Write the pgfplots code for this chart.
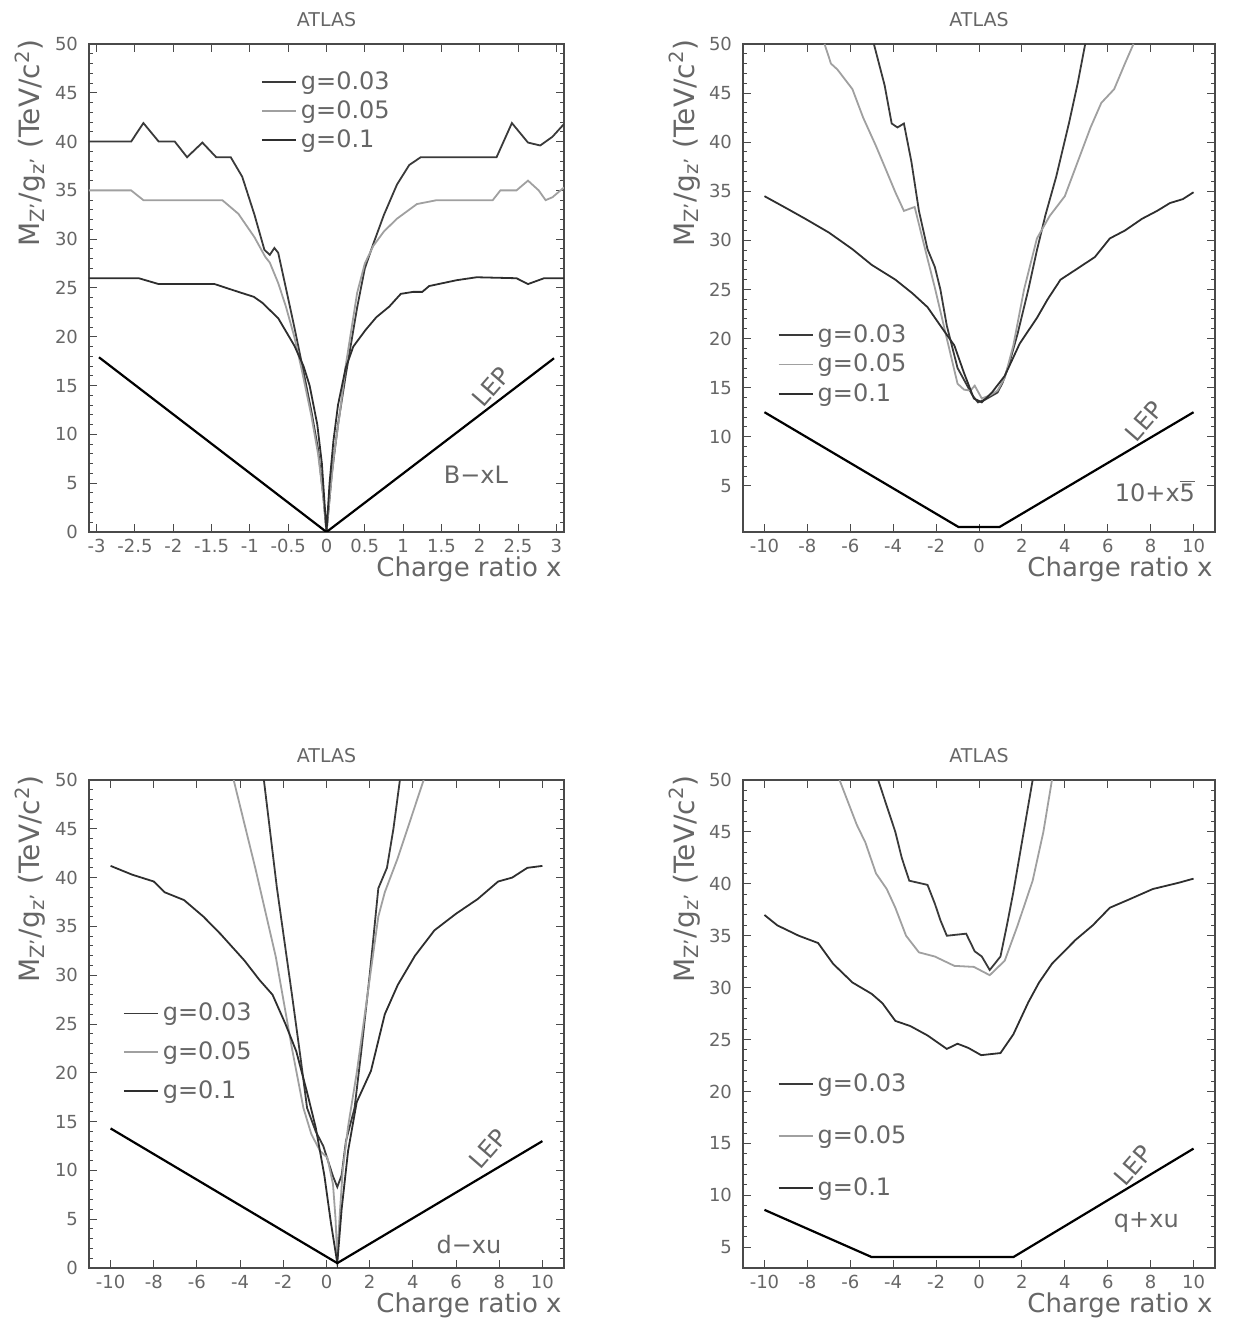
\documentclass[border=0pt]{standalone}
\usepackage{pgfplots}
\pgfplotsset{compat=1.18}
\usepackage{fontspec}
\setmainfont{DejaVu Sans}
\definecolor{txt}{HTML}{666666}
\definecolor{frm}{HTML}{4A4A4A}
\definecolor{cA}{HTML}{3A3A3A}
\definecolor{cB}{HTML}{A0A0A0}
\definecolor{cC}{HTML}{2E2E2E}
\tikzset{ann/.style={font=\fontsize{12}{14}\selectfont, text=txt}}
\pgfplotsset{
  atlas/.style={
    scale only axis,
    height=244pt,
    axis line style={draw=frm, line width=0.6pt},
    major tick length=4pt, minor tick length=2pt,
    tick style={draw=frm, line width=0.5pt},
    tick align=inside,
    minor y tick num=4,
    ticklabel style={font=\fontsize{9}{10}\selectfont, text=txt},
    /pgf/number format/assume math mode=true,
    yticklabel style={xshift=-2pt},
    title={ATLAS},
    every axis title/.style={at={(0.5,1)}, anchor=center, yshift=12pt, font=\fontsize{9.5}{11}\selectfont, text=txt, inner sep=0pt},
    xlabel={Charge ratio x},
    every axis x label/.style={at={(rel axis cs:1,0)}, anchor=north east, yshift=-12pt, xshift=-1pt, inner sep=0pt, font=\fontsize{13}{15}\selectfont, text=txt},
    ylabel={M\textsubscript{Z'}/g\textsubscript{z'} (TeV/c\textsuperscript{2})},
    every axis y label/.style={at={(rel axis cs:-0.124,1.01)}, rotate=90, anchor=east, inner sep=0pt, font=\fontsize{14}{15}\selectfont, text=txt},
    legend style={draw=none, fill=none, inner xsep=0pt, inner ysep=0pt, font=\fontsize{12}{13}\selectfont, text=txt, nodes={inner sep=2pt, text depth=0.15em}},
    legend cell align=left,
    /tikz/every even column/.append style={column sep=6pt},
  },
  sA/.style={draw=cA, line width=0.9pt},
  sB/.style={draw=cB, line width=0.9pt},
  sC/.style={draw=cC, line width=0.9pt},
  lep/.style={draw=black, line width=1.1pt, forget plot},
}
\begin{document}
\begin{tikzpicture}
\path[use as bounding box] (0,0) rectangle (617.5pt,661.5pt);
% ---------------- Panel 1: B - xL
\begin{axis}[atlas, at={(44.5pt,395.5pt)}, anchor=south west, width=237.5pt,
  xmin=-3.1, xmax=3.1, ymin=0, ymax=50,
  xtick={-3,-2.5,-2,-1.5,-1,-0.5,0,0.5,1,1.5,2,2.5,3},
  ytick={0,5,...,50},
  legend style={at={(axis cs:-0.86,47.6)}, anchor=north west, row sep=0pt}]
\addplot[sA] coordinates {(-3.1,40) (-2.55,40) (-2.39,41.9) (-2.19,40) (-1.98,40) (-1.82,38.4) (-1.62,39.9) (-1.44,38.4) (-1.25,38.4) (-1.1,36.4) (-0.94,32.5) (-0.81,28.9) (-0.74,28.4) (-0.68,29.1) (-0.63,28.6) (-0.53,25) (-0.42,21) (-0.32,17.2) (-0.2,12.5) (-0.11,8.5) (-0.04,3.5) (0,0) (0.03,2.5) (0.07,6) (0.15,11) (0.25,16) (0.4,23) (0.5,27) (0.61,29.5) (0.75,32.5) (0.92,35.6) (1.08,37.6) (1.23,38.4) (2.22,38.4) (2.42,41.9) (2.63,39.9) (2.79,39.6) (2.95,40.5) (3.1,41.8)};
\addlegendentry{g=0.03}
\addplot[sB] coordinates {(-3.1,35) (-2.55,35) (-2.39,34) (-1.36,34) (-1.15,32.6) (-0.94,30.2) (-0.8,28.2) (-0.74,27.6) (-0.63,25.5) (-0.53,23.1) (-0.42,20) (-0.32,16.5) (-0.2,12) (-0.11,8) (-0.04,3.5) (0,0) (0.04,3.5) (0.1,8) (0.18,12.5) (0.25,17) (0.33,21) (0.4,24.5) (0.5,27.5) (0.61,29.3) (0.75,30.8) (0.92,32.1) (1.18,33.6) (1.44,34) (2.17,34) (2.27,35) (2.48,35) (2.63,36) (2.77,35) (2.86,34) (2.95,34.3) (3.1,35.3)};
\addlegendentry{g=0.05}
\addplot[sC] coordinates {(-3.1,26) (-2.45,26) (-2.19,25.4) (-1.46,25.4) (-1.15,24.6) (-0.95,24.1) (-0.84,23.5) (-0.63,21.9) (-0.42,19.1) (-0.3,17) (-0.22,15) (-0.12,11) (-0.06,7) (0,0) (0.04,5) (0.09,9.3) (0.15,13) (0.25,16.8) (0.35,19) (0.51,20.7) (0.65,22) (0.82,23.1) (0.97,24.4) (1.13,24.6) (1.25,24.6) (1.34,25.2) (1.7,25.8) (1.96,26.1) (2.48,26) (2.63,25.4) (2.84,26) (3.1,26)};
\addlegendentry{g=0.1}
\addplot[lep] coordinates {(-2.97,17.9) (0,0) (2.97,17.8)};
\node[ann, rotate=49] at (axis cs:2.15,14.9) {LEP};
\node[ann] at (axis cs:1.95,5.9) {B−xL};
\end{axis}
% ---------------- Panel 2: 10 + x 5bar
\begin{axis}[atlas, at={(371.5pt,395.5pt)}, anchor=south west, width=236pt,
  xmin=-11, xmax=11, ymin=0.3, ymax=50,
  xtick={-10,-8,...,10},
  ytick={5,10,...,50},
  legend style={at={(axis cs:-9.4,21.9)}, anchor=north west, row sep=0.5pt}]
\addplot[sA] coordinates {(-4.9,50) (-4.4,45.8) (-4.07,41.9) (-3.8,41.5) (-3.5,41.9) (-3.15,38) (-2.8,33) (-2.4,29.1) (-2.06,27.3) (-1.8,25) (-1.5,21.3) (-1.0,17) (-0.6,15.4) (-0.3,14.2) (-0.05,13.5) (0.3,13.8) (0.86,14.5) (1.1,15.5) (1.4,17.4) (1.8,20.5) (2.3,25) (2.7,29) (3.1,32.6) (3.6,36.5) (4.2,42) (4.6,46) (4.95,50)};
\addlegendentry{g=0.03}
\addplot[sB] coordinates {(-7.2,50) (-6.9,48) (-6.6,47.4) (-5.9,45.4) (-5.4,42.5) (-4.8,39.6) (-4.3,37) (-3.9,34.9) (-3.5,33) (-3.0,33.4) (-2.5,29) (-2.06,25.2) (-1.5,20) (-1.0,15.4) (-0.7,14.8) (-0.4,14.7) (-0.2,15.2) (0.13,13.9) (0.5,14.2) (0.86,14.7) (1.2,16) (1.6,19.3) (2.1,25) (2.7,30.2) (3.3,32.5) (4.0,34.5) (4.6,38) (5.2,41.5) (5.7,44) (6.3,45.4) (6.8,48) (7.2,50)};
\addlegendentry{g=0.05}
\addplot[sC] coordinates {(-10,34.5) (-9,33.3) (-8.1,32.2) (-7,30.8) (-5.9,29.1) (-5,27.5) (-3.9,26) (-3.1,24.6) (-2.4,23.2) (-1.7,21) (-1.15,19.3) (-0.7,16.5) (-0.24,13.9) (0.13,13.5) (0.6,14.5) (1.2,16.2) (1.9,19.5) (2.7,22.1) (3.2,24) (3.8,26) (4.5,27) (5.4,28.3) (6.1,30.2) (6.8,31) (7.6,32.2) (8.3,33) (8.9,33.8) (9.5,34.2) (10,34.9)};
\addlegendentry{g=0.1}
\addplot[lep] coordinates {(-10,12.5) (-0.95,0.8) (0.95,0.8) (10,12.5)};
\node[ann, rotate=49] at (axis cs:7.7,11.6) {LEP};
\node[ann] at (axis cs:8.2,4.5) {10+x$\overline{\mbox{5}}$};
\end{axis}
% ---------------- Panel 3: d - xu
\begin{axis}[atlas, at={(44.5pt,27.5pt)}, anchor=south west, width=237.5pt,
  xmin=-11, xmax=11, ymin=0, ymax=50,
  xtick={-10,-8,...,10},
  ytick={0,5,...,50},
  legend style={at={(axis cs:-9.45,27.6)}, anchor=north west, row sep=5pt}]
\addplot[sA] coordinates {(-2.9,50) (-2.3,39) (-1.6,28) (-1.2,21.5) (-0.9,16.4) (-0.5,14) (-0.15,12.5) (0.3,9.4) (0.5,8.3) (0.7,9.5) (0.9,13) (1.3,16.4) (1.6,22) (2.0,30) (2.4,38.9) (2.8,41) (3.1,45) (3.4,50)};
\addlegendentry{g=0.03}
\addplot[sB] coordinates {(-4.3,50) (-3.3,41) (-2.35,31.9) (-1.6,22.5) (-1.07,16.4) (-0.7,13.7) (-0.3,12) (0.04,11.3) (0.3,8.6) (0.42,5) (0.5,0.9) (0.6,5) (0.75,10) (1.0,14.5) (1.4,20) (1.9,28) (2.4,36) (2.7,38.5) (3.3,42) (3.9,46) (4.5,50)};
\addlegendentry{g=0.05}
\addplot[sC] coordinates {(-10,41.2) (-9,40.3) (-8,39.6) (-7.5,38.5) (-6.6,37.7) (-5.7,36) (-4.9,34.2) (-3.8,31.5) (-3.1,29.5) (-2.5,28) (-1.9,25) (-1.4,22.2) (-0.9,18) (-0.5,14.4) (-0.1,9.5) (0.2,4.7) (0.5,0.5) (0.7,6) (1.0,12) (1.4,17) (2.06,20.2) (2.7,26) (3.3,29) (4.1,32) (5.0,34.6) (6.0,36.3) (7.0,37.8) (7.95,39.6) (8.6,40) (9.3,41) (10,41.2)};
\addlegendentry{g=0.1}
\addplot[lep] coordinates {(-10,14.3) (0.5,0.5) (10,13)};
\node[ann, rotate=49] at (axis cs:7.5,12.2) {LEP};
\node[ann] at (axis cs:6.6,2.4) {d−xu};
\end{axis}
% ---------------- Panel 4: q + xu
\begin{axis}[atlas, at={(371.5pt,27.5pt)}, anchor=south west, width=236pt,
  xmin=-11, xmax=11, ymin=3, ymax=50,
  xtick={-10,-8,...,10},
  ytick={5,10,...,50},
  legend style={at={(axis cs:-9.4,22.15)}, anchor=north west, row sep=11.5pt}]
\addplot[sA] coordinates {(-4.7,50) (-4.3,47.5) (-3.9,45) (-3.6,42.5) (-3.25,40.3) (-2.4,39.9) (-2.06,38.1) (-1.8,36.5) (-1.5,35) (-0.6,35.2) (-0.2,33.5) (0.13,33) (0.5,31.7) (1.0,33) (1.3,36) (1.6,39.2) (2.0,44) (2.5,50)};
\addlegendentry{g=0.03}
\addplot[sB] coordinates {(-6.5,50) (-5.7,45.7) (-5.3,44) (-4.8,41) (-4.3,39.5) (-3.9,37.7) (-3.4,35) (-2.8,33.4) (-2.06,33) (-1.15,32.1) (-0.24,32) (0.5,31.2) (1.2,32.6) (1.8,36) (2.5,40.3) (3.0,45) (3.4,50)};
\addlegendentry{g=0.05}
\addplot[sC] coordinates {(-10,37) (-9.4,36) (-8.4,35) (-7.5,34.3) (-6.8,32.3) (-5.9,30.5) (-5.0,29.4) (-4.5,28.5) (-3.9,26.8) (-3.2,26.3) (-2.4,25.4) (-1.5,24.1) (-1.0,24.6) (-0.5,24.2) (0.1,23.5) (1.0,23.7) (1.6,25.5) (2.3,28.6) (2.8,30.5) (3.4,32.3) (4.5,34.6) (5.3,36) (6.1,37.7) (7,38.5) (8.1,39.5) (8.9,39.9) (9.3,40.1) (10,40.5)};
\addlegendentry{g=0.1}
\addplot[lep] coordinates {(-10,8.6) (-5,4.05) (1.6,4.05) (10,14.5)};
\node[ann, rotate=49] at (axis cs:7.2,12.9) {LEP};
\node[ann] at (axis cs:7.8,7.4) {q+xu};
\end{axis}
\end{tikzpicture}
\end{document}
